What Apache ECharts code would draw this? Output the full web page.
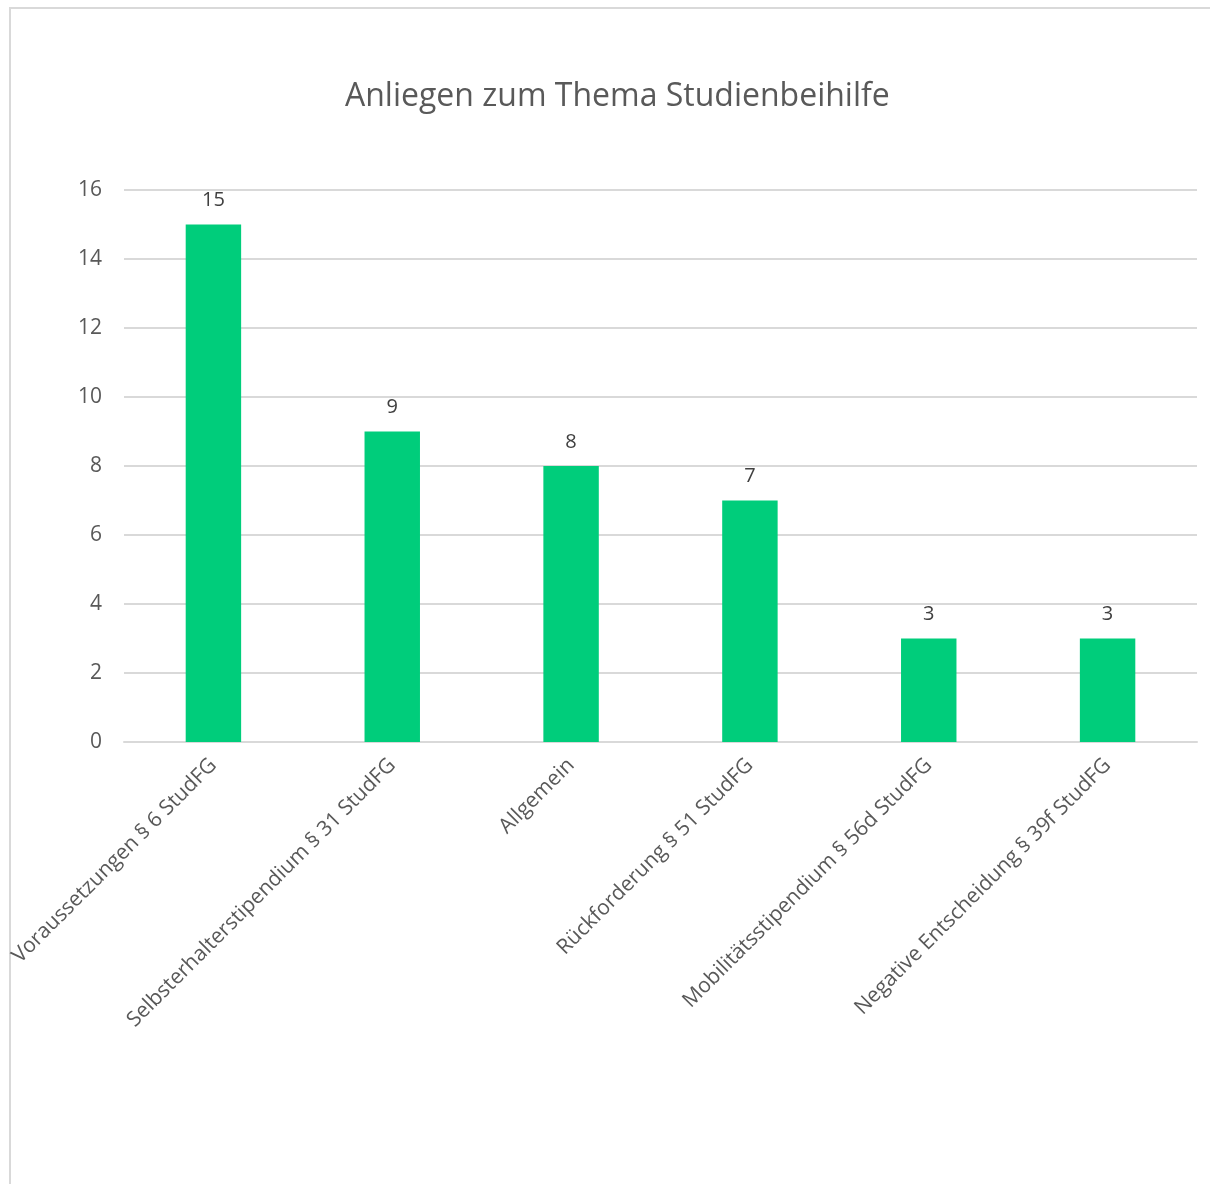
<!DOCTYPE html>
<html>
<head>
<meta charset="utf-8">
<script src="https://cdn.jsdelivr.net/npm/echarts@6/dist/echarts.min.js"></script>
<style>
  html, body { margin: 0; padding: 0; background: #ffffff; overflow: hidden; }
  #chart { width: 1210px; height: 1184px; }
</style>
</head>
<body>
<div id="chart"></div>
<script>
// Anliegen nach Thema (Studienbeihilfe)
const categories = [
  'Voraussetzungen § 6 StudFG',
  'Selbsterhalterstipendium § 31 StudFG',
  'Allgemein',
  'Rückforderung § 51 StudFG',
  'Mobilitätsstipendium § 56d StudFG',
  'Negative Entscheidung § 39f StudFG'
];
const counts = [15, 9, 8, 7, 3, 3];
const chartTitle = 'Anliegen zum Thema Studienbeihilfe';

const textColor = '#595959';
const fontFamily = '"Open Sans", "Noto Sans", sans-serif';

const chart = echarts.init(document.getElementById('chart'));
chart.setOption({
  backgroundColor: '#ffffff',
  animation: false,
  title: {
    text: chartTitle,
    left: 340,
    top: 76,
    textStyle: { color: textColor, fontSize: 32, fontWeight: 'normal', fontFamily: fontFamily }
  },
  graphic: [{
    type: 'rect',
    shape: { x: 10, y: 8, width: 1400, height: 1400 },
    style: { fill: 'none', stroke: '#d9d9d9', lineWidth: 2 },
    silent: true,
    z: -1
  }],
  grid: { left: 124, right: 13, top: 190, bottom: 442, containLabel: false },
  xAxis: {
    type: 'category',
    data: categories,
    axisLine: { show: true, lineStyle: { color: '#d9d9d9', width: 2 } },
    axisTick: { show: false },
    axisLabel: {
      interval: 0,
      rotate: 45,
      margin: 20,
      color: textColor,
      fontSize: 21,
      fontFamily: fontFamily
    }
  },
  yAxis: {
    type: 'value',
    min: 0,
    max: 16,
    interval: 2,
    axisLine: { show: false },
    axisTick: { show: false },
    axisLabel: { color: textColor, fontSize: 21, margin: 22, fontFamily: fontFamily },
    splitLine: { lineStyle: { color: '#d9d9d9', width: 2 } }
  },
  series: [{
    type: 'bar',
    data: counts,
    barWidth: '31%',
    itemStyle: { color: '#00cd7b' },
    label: {
      show: true,
      position: 'top',
      distance: 14,
      color: '#404040',
      fontSize: 20,
      fontFamily: fontFamily
    }
  }]
});
</script>
</body>
</html>
